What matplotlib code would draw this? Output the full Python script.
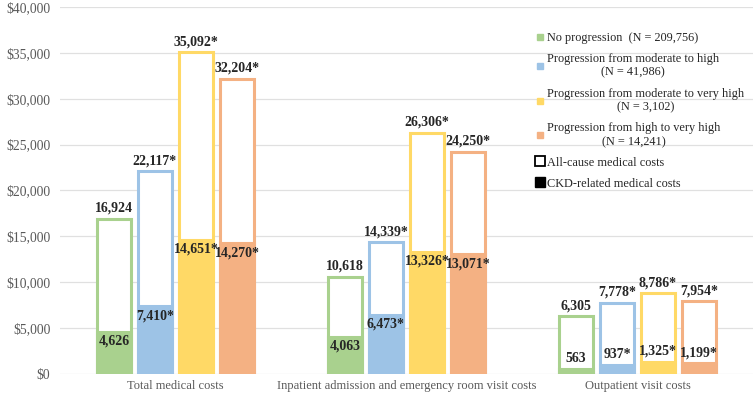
import matplotlib
matplotlib.use("Agg")
import matplotlib.pyplot as plt
from matplotlib.lines import Line2D
import numpy as np

plt.rcParams['font.family'] = ['Liberation Serif', 'DejaVu Serif']

# data
categories = ['Total medical costs',
              'Inpatient admission and emergency room visit costs',
              'Outpatient visit costs']
series_names = ['No progression  (N = 209,756)',
                'Progression from moderate to high\n(N = 41,986)',
                'Progression from moderate to very high\n(N = 3,102)',
                'Progression from high to very high\n(N = 14,241)']
all_cause = [[16924, 10618, 6305],
             [22117, 14339, 7778],
             [35092, 26306, 8786],
             [32204, 24250, 7954]]
ckd_related = [[4626, 4063, 563],
               [7410, 6473, 937],
               [14651, 13326, 1325],
               [14270, 13071, 1199]]
significant = [False, True, True, True]
colors = ['#A9D18E', '#9DC3E6', '#FFD966', '#F4B183']

fig = plt.figure(figsize=(7.56, 3.96), dpi=100)
ax = fig.add_axes([60 / 756, 22 / 396, 693 / 756, 367 / 396])

step = 0.1775
width = 0.143
x = np.arange(len(categories))

for j in range(4):
    xs = x + (j - 1.5) * step
    star = '*' if significant[j] else ''
    ax.bar(xs, all_cause[j], width, facecolor='white', edgecolor=colors[j],
           linewidth=2.2, zorder=3)
    ax.bar(xs, ckd_related[j], width, facecolor=colors[j], edgecolor=colors[j],
           linewidth=2.2, zorder=4)
    for xi, tot, ckd in zip(xs, all_cause[j], ckd_related[j]):
        ax.annotate(f'{tot:,}{star}', (xi, tot), xytext=(0, 7.5),
                    textcoords='offset points', ha='center', va='center',
                    fontsize=10, fontweight='bold', color='#262626', zorder=5)
        if ckd > 3000:
            dy = -7
        else:
            dy = 7.5
        ax.annotate(f'{ckd:,}{star}', (xi, ckd), xytext=(0, dy),
                    textcoords='offset points', ha='center', va='center',
                    fontsize=10, fontweight='bold', color='#262626', zorder=5)

ax.set_xlim(-0.5, 2.5)
ax.set_ylim(0, 40000)
ax.set_yticks(range(0, 40001, 5000))
ax.set_yticklabels([f'${v:,}' for v in range(0, 40001, 5000)])
ax.set_xticks(x)
ax.set_xticklabels(categories)
ax.tick_params(axis='both', length=0, labelcolor='#595959')
ax.tick_params(axis='y', pad=7, labelsize=9.8)
ax.tick_params(axis='x', pad=4, labelsize=9)
ax.grid(axis='y', color='#e0e0e0', linewidth=0.9, zorder=0)
ax.set_axisbelow(True)
for s in ax.spines.values():
    s.set_visible(False)

handles = [Line2D([], [], marker='s', linestyle='none', markersize=4.5,
                  markerfacecolor=c, markeredgecolor=c) for c in colors]
handles.append(Line2D([], [], marker='s', linestyle='none', markersize=6.5,
                      markerfacecolor='white', markeredgecolor='black',
                      markeredgewidth=1.3))
handles.append(Line2D([], [], marker='s', linestyle='none', markersize=6.5,
                      markerfacecolor='black', markeredgecolor='black'))
labels = series_names + ['All-cause medical costs', 'CKD-related medical costs']
leg = fig.legend(handles, labels, loc='upper left',
                 bbox_to_anchor=(530 / 756, 1 - 26 / 396), frameon=False,
                 fontsize=8.8, handlelength=0.6, handletextpad=0.3,
                 labelspacing=0.72, borderpad=0)
for t in leg.get_texts():
    t.set_multialignment('center')
    t.set_color('#262626')

fig.savefig('out.png', dpi=100)
